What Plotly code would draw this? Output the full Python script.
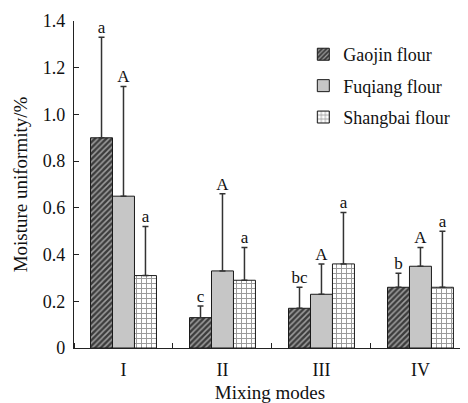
import plotly.graph_objects as go

modes = ["I", "II", "III", "IV"]
series_names = ["Gaojin flour", "Fuqiang flour", "Shangbai flour"]
gaojin = [0.90, 0.13, 0.17, 0.26]
gaojin_err = [0.43, 0.05, 0.09, 0.06]
gaojin_letters = ["a", "c", "bc", "b"]
fuqiang = [0.65, 0.33, 0.23, 0.35]
fuqiang_err = [0.47, 0.33, 0.13, 0.08]
fuqiang_letters = ["A", "A", "A", "A"]
shangbai = [0.31, 0.29, 0.36, 0.26]
shangbai_err = [0.21, 0.14, 0.22, 0.24]
shangbai_letters = ["a", "a", "a", "a"]
y_ticks = [0, 0.2, 0.4, 0.6, 0.8, 1.0, 1.2, 1.4]
y_ticktext = ["0", "0.2", "0.4", "0.6", "0.8", "1.0", "1.2", "1.4"]

FONT = "Liberation Serif, Times New Roman, serif"
bar_w = 0.222
xs = list(range(len(modes)))

patterns = [
    dict(shape="/", fgcolor="#ffffff", bgcolor="#3c3c3c", size=4, solidity=0.38),
    None,
    dict(shape="+", fgcolor="#333333", bgcolor="#ffffff", size=5, solidity=0.35),
]
fills = ["#3c3c3c", "#c6c6c6", "#ffffff"]
data = [(gaojin, gaojin_err, gaojin_letters),
        (fuqiang, fuqiang_err, fuqiang_letters),
        (shangbai, shangbai_err, shangbai_letters)]

fig = go.Figure()
for k, (name, (vals, errs, letters)) in enumerate(zip(series_names, data)):
    marker = dict(color=fills[k], line=dict(color="#1a1a1a", width=1))
    if patterns[k] is not None:
        marker["pattern"] = patterns[k]
    fig.add_trace(go.Bar(
        x=xs, y=vals, name=name, width=bar_w, offset=(k - 1.5) * bar_w,
        marker=marker, legendgroup=name,
        error_y=dict(type="data", array=errs, arrayminus=[0] * len(errs),
                     symmetric=False, color="#333333", thickness=1.5, width=3),
    ))
    fig.add_trace(go.Scatter(
        x=[x + (k - 1) * bar_w for x in xs],
        y=[v + e for v, e in zip(vals, errs)],
        text=letters, mode="text", textposition="top center",
        textfont=dict(family=FONT, size=17, color="#111"),
        showlegend=False, hoverinfo="skip",
    ))

fig.update_layout(
    width=460, height=395,
    margin=dict(l=66, r=2, t=13, b=55, autoexpand=False),
    paper_bgcolor="white", plot_bgcolor="white",
    font=dict(family=FONT, size=18, color="#111"),
    showlegend=True,
    legend=dict(x=0.585, y=0.954, xanchor="left", yanchor="top",
                bgcolor="rgba(0,0,0,0)", font=dict(family=FONT, size=18, color="#111"),
                tracegroupgap=5),
    bargap=0.334,
)
fig.update_xaxes(
    range=[-0.5, 3.46], tickvals=xs, ticktext=modes, ticks="",
    showline=True, linecolor="#222", linewidth=1.2, showgrid=False, zeroline=False,
    minor=dict(tick0=0.5, dtick=1, ticks="inside", ticklen=5, tickcolor="#222", tickwidth=1.2),
    title=dict(text="Mixing modes", font=dict(family=FONT, size=19), standoff=10),
    tickfont=dict(family=FONT, size=18), ticklabelstandoff=5, automargin=False,
)
fig.update_yaxes(
    range=[0, 1.4], tickvals=y_ticks, ticktext=y_ticktext,
    ticks="inside", ticklen=5, tickcolor="#222", tickwidth=1.2,
    showline=True, linecolor="#222", linewidth=1.2, showgrid=False, zeroline=False,
    title=dict(text="Moisture uniformity/%", font=dict(family=FONT, size=19), standoff=10),
    tickfont=dict(family=FONT, size=18), ticklabelstandoff=4, automargin=False,
)
fig.write_html("out.html")
